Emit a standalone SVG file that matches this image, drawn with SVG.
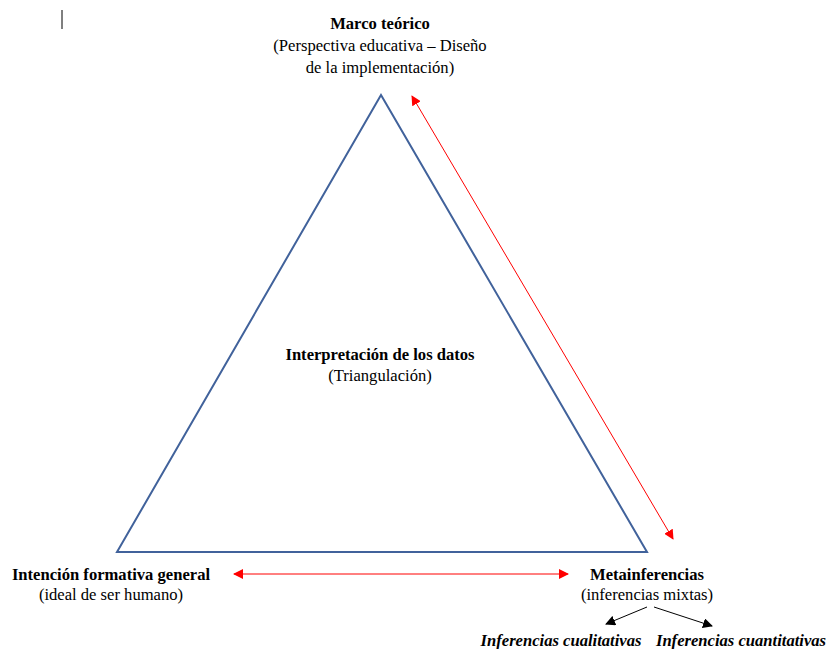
<svg xmlns="http://www.w3.org/2000/svg" width="827" height="649" viewBox="0 0 827 649">
<defs>
<marker id="ar" viewBox="0 0 10 10" refX="9" refY="5" markerWidth="10" markerHeight="10" markerUnits="userSpaceOnUse" orient="auto-start-reverse"><path d="M0,0 L10,5 L0,10 z" fill="#ff0000"/></marker>
<marker id="ab" viewBox="0 0 10 10" refX="9" refY="5" markerWidth="10" markerHeight="10" markerUnits="userSpaceOnUse" orient="auto"><path d="M0,0 L10,5 L0,10 z" fill="#000"/></marker>
<style>
text{font-family:"Liberation Serif","Times New Roman",serif;font-size:16.6px;fill:#000;text-anchor:middle}
.b{font-weight:bold}
.bi{font-weight:bold;font-style:italic}
.red{stroke:#ff0000;stroke-width:1;fill:none}
.blk{stroke:#000;stroke-width:1;fill:none}
</style>
</defs>
<line x1="62" y1="10" x2="62" y2="29" stroke="#000" stroke-width="1"/>
<g id="triangle"><polygon points="381,95 117,552 647,552" fill="none" stroke="#41629b" stroke-width="2"/></g>
<g id="marco"><text x="380" y="29" class="b">Marco teórico</text><text x="380" y="51">(Perspectiva educativa – Diseño</text><text x="380" y="73">de la implementación)</text></g>
<g id="interpretacion"><text x="380" y="360" class="b">Interpretación de los datos</text><text x="380" y="381">(Triangulación)</text></g>
<g id="intencion"><text x="111" y="580" class="b">Intención formativa general</text><text x="111" y="600">(ideal de ser humano)</text></g>
<g id="meta"><text x="647" y="580" class="b">Metainferencias</text><text x="647" y="600">(inferencias mixtas)</text></g>
<g id="cual"><text x="561" y="646" class="bi">Inferencias cualitativas</text></g>
<g id="cuant"><text x="741" y="646" class="bi">Inferencias cuantitativas</text></g>
<g id="connectors">
<line x1="412" y1="96" x2="673" y2="539" class="red" marker-start="url(#ar)" marker-end="url(#ar)"/>
<line x1="234" y1="574" x2="568" y2="574" class="red" marker-start="url(#ar)" marker-end="url(#ar)"/>
<line x1="647" y1="607" x2="606" y2="624" class="blk" marker-end="url(#ab)"/>
<line x1="654" y1="607" x2="712" y2="626" class="blk" marker-end="url(#ab)"/>
</g>
</svg>
